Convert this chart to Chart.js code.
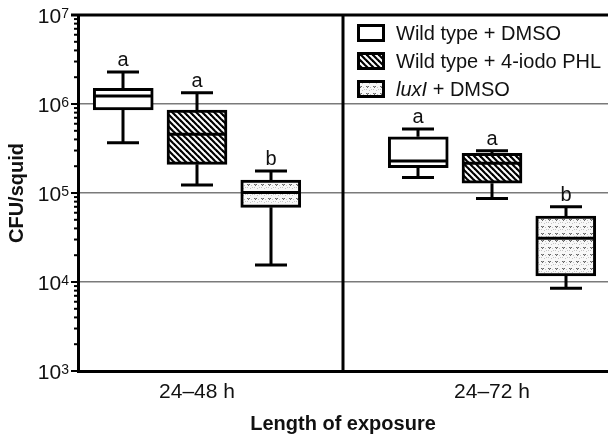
<!DOCTYPE html>
<html><head><meta charset="utf-8">
<style>html,body{margin:0;padding:0;background:#fff}canvas{display:block}</style>
<script src="https://cdn.jsdelivr.net/npm/chart.js@4/dist/chart.umd.min.js"></script>
</head><body>
<canvas id="c" width="608" height="436"></canvas>
<script>
// ---- data ----
const categories = ['24–48 h', '24–72 h'];
const seriesLabels = ['Wild type + DMSO', 'Wild type + 4-iodo PHL', 'luxI + DMSO'];
// per series (rows) and category (columns)
const whiskerLow  = [[3.67e5, 1.49e5], [1.23e5, 8.7e4], [1.55e4, 8.5e3]];
const quartile1   = [[8.57e5, 1.92e5], [2.10e5, 1.29e5], [6.9e4, 1.17e4]];
const medians     = [[1.23e6, 2.29e5], [4.57e5, 2.16e5], [1.01e5, 3.10e4]];
const quartile3   = [[1.50e6, 4.29e5], [8.57e5, 2.79e5], [1.40e5, 5.52e4]];
const whiskerHigh = [[2.29e6, 5.24e5], [1.34e6, 2.99e5], [1.77e5, 7.0e4]];
const groupLetters = [['a', 'a'], ['a', 'a'], ['b', 'b']];
const yTickValues = [1e3, 1e4, 1e5, 1e6, 1e7];

// ---- styling ----
const F = '"Liberation Sans", Arial, Helvetica, sans-serif';
const INK = '#111';
const boxOffset = [-0.25, 0, 0.25];

const ctx = document.getElementById('c').getContext('2d');

function makeHatch() {
  const c = document.createElement('canvas'); c.width = 6; c.height = 6;
  const g = c.getContext('2d');
  g.fillStyle = '#fff'; g.fillRect(0, 0, 6, 6);
  g.strokeStyle = '#000'; g.lineWidth = 2.2;
  for (const o of [-6, 0, 6]) { g.beginPath(); g.moveTo(o - 1, -1); g.lineTo(o + 7, 7); g.stroke(); }
  return ctx.createPattern(c, 'repeat');
}
function makeDots() {
  const c = document.createElement('canvas'); c.width = 7; c.height = 7;
  const g = c.getContext('2d');
  g.fillStyle = '#f8f8f8'; g.fillRect(0, 0, 7, 7);
  g.fillStyle = '#c4c4c4';
  g.fillRect(0, 5, 1, 1); g.fillRect(5, 6, 1, 1); g.fillRect(6, 3, 1, 1); g.fillRect(2, 5, 1, 1);
  g.fillStyle = '#666';
  g.fillRect(2, 2, 1, 1); g.fillRect(4, 2, 1, 1); g.fillRect(3, 3, 1, 1);
  g.fillStyle = '#a8a8a8';
  g.fillRect(3, 2, 1, 1);
  return ctx.createPattern(c, 'repeat');
}
const fills = ['#ffffff', makeHatch(), makeDots()];

const datasets = seriesLabels.map((name, i) => ({
  type: 'bar',
  label: name,
  data: categories.map((c, j) => ({ x: j + 1 + boxOffset[i], y: [quartile1[i][j], quartile3[i][j]] })),
  backgroundColor: fills[i],
  borderColor: '#000',
  borderWidth: 3,
  borderSkipped: false,
  barThickness: 60,
  grouped: false
}));

const extras = {
  id: 'boxExtras',
  afterDatasetsDraw(chart) {
    const { ctx, scales: { x, y }, chartArea: a } = chart;
    ctx.save();
    ctx.strokeStyle = '#000';
    ctx.lineCap = 'butt';
    // whiskers, medians, letters
    seriesLabels.forEach((s, i) => {
      categories.forEach((c, j) => {
        const px = Math.round(x.getPixelForValue(j + 1 + boxOffset[i]));
        const yLo = y.getPixelForValue(whiskerLow[i][j]);
        const yQ1 = y.getPixelForValue(quartile1[i][j]);
        const yMd = y.getPixelForValue(medians[i][j]);
        const yQ3 = y.getPixelForValue(quartile3[i][j]);
        const yHi = y.getPixelForValue(whiskerHigh[i][j]);
        ctx.lineWidth = 3;
        ctx.beginPath();
        ctx.moveTo(px, yQ3); ctx.lineTo(px, yHi);
        ctx.moveTo(px - 16, yHi); ctx.lineTo(px + 16, yHi);
        ctx.moveTo(px, yQ1); ctx.lineTo(px, yLo);
        ctx.moveTo(px - 16, yLo); ctx.lineTo(px + 16, yLo);
        ctx.moveTo(px - 29, yMd); ctx.lineTo(px + 29, yMd);
        ctx.stroke();
        ctx.fillStyle = INK;
        ctx.font = '20px ' + F;
        ctx.textAlign = 'center'; ctx.textBaseline = 'alphabetic';
        ctx.fillText(groupLetters[i][j], px, yHi - 6);
      });
    });
    // panel divider and top frame
    ctx.lineWidth = 3;
    ctx.beginPath();
    const dx = Math.round(x.getPixelForValue(1.5)) - 2;
    ctx.moveTo(dx, a.top); ctx.lineTo(dx, a.bottom);
    ctx.moveTo(a.left - 7, a.top); ctx.lineTo(a.right, a.top);
    ctx.stroke();
    // y ticks (major + minor)
    for (let e = 3; e <= 7; e++) {
      for (let m = 1; m <= 9; m++) {
        const v = m * Math.pow(10, e);
        if (v > 1e7) break;
        const py = y.getPixelForValue(v);
        const len = m === 1 ? 7 : 4;
        ctx.lineWidth = 2;
        ctx.beginPath(); ctx.moveTo(a.left - len, py); ctx.lineTo(a.left, py); ctx.stroke();
      }
    }
    // y tick labels 10^n
    yTickValues.forEach(v => {
      const py = y.getPixelForValue(v);
      const ex = String(Math.round(Math.log10(v)));
      ctx.fillStyle = INK;
      ctx.textBaseline = 'alphabetic';
      ctx.font = '14px ' + F;
      const ew = ctx.measureText(ex).width;
      const right = a.left - 9;
      ctx.textAlign = 'left';
      ctx.fillText(ex, right - ew, py + 3);
      ctx.font = '21px ' + F;
      ctx.textAlign = 'right';
      ctx.fillText('10', right - ew, py + 8);
    });
    // y title
    ctx.save();
    ctx.translate(17, (a.top + a.bottom) / 2);
    ctx.rotate(-Math.PI / 2);
    ctx.font = 'bold 20px ' + F;
    ctx.textAlign = 'center'; ctx.textBaseline = 'middle';
    ctx.fillStyle = INK;
    ctx.fillText('CFU/squid', 0, 0);
    ctx.restore();
    // legend
    const lx = dx + 14, rowH = 28, ly0 = a.top + 18;
    seriesLabels.forEach((name, i) => {
      const cy = ly0 + i * rowH;
      ctx.fillStyle = fills[i];
      ctx.fillRect(lx, cy - 9, 28, 18);
      ctx.lineWidth = 3; ctx.strokeStyle = '#000';
      ctx.strokeRect(lx + 1.5, cy - 7.5, 25, 15);
      ctx.fillStyle = INK; ctx.textAlign = 'left'; ctx.textBaseline = 'middle';
      const tx = lx + 39;
      if (name.startsWith('luxI')) {
        ctx.font = 'italic 20px ' + F;
        ctx.fillText('luxI', tx, cy + 1);
        const w = ctx.measureText('luxI').width;
        ctx.font = '20px ' + F;
        ctx.fillText(name.slice(4), tx + w, cy + 1);
      } else {
        ctx.font = '20px ' + F;
        ctx.fillText(name, tx, cy + 1);
      }
    });
    ctx.restore();
  }
};

new Chart(ctx, {
  type: 'bar',
  data: { datasets },
  options: {
    responsive: false,
    animation: false,
    devicePixelRatio: 1,
    layout: { padding: { top: 15, right: 0, bottom: 0, left: 0 } },
    plugins: { legend: { display: false }, tooltip: { enabled: false } },
    scales: {
      x: {
        type: 'linear', min: 0.5966, max: 2.3932, offset: false,
        afterBuildTicks: s => { s.ticks = categories.map((c, j) => ({ value: j + 1 })); },
        afterFit: s => { s.height = 65; },
        ticks: {
          autoSkip: false, maxRotation: 0, padding: 9,
          callback: v => categories[Math.round(v) - 1] || '',
          font: { size: 21, family: F }, color: INK
        },
        grid: { display: false, drawTicks: false },
        border: { display: true, color: '#000', width: 3 },
        title: {
          display: true, text: 'Length of exposure', color: INK,
          font: { size: 20, weight: 'bold', family: F },
          padding: { top: 0, bottom: 0 }
        }
      },
      y: {
        type: 'logarithmic', min: 1e3, max: 1e7,
        afterFit: s => { s.width = 78; },
        afterBuildTicks: s => { s.ticks = yTickValues.map(v => ({ value: v, major: true })); },
        ticks: { display: false },
        grid: {
          drawTicks: false, lineWidth: 1.5,
          color: c => (c.tick && c.tick.value > 1e3 && c.tick.value < 1e7) ? '#7a7a7a' : 'rgba(0,0,0,0)'
        },
        border: { display: true, color: '#000', width: 3 }
      }
    }
  },
  plugins: [extras]
});
</script>
</body></html>
